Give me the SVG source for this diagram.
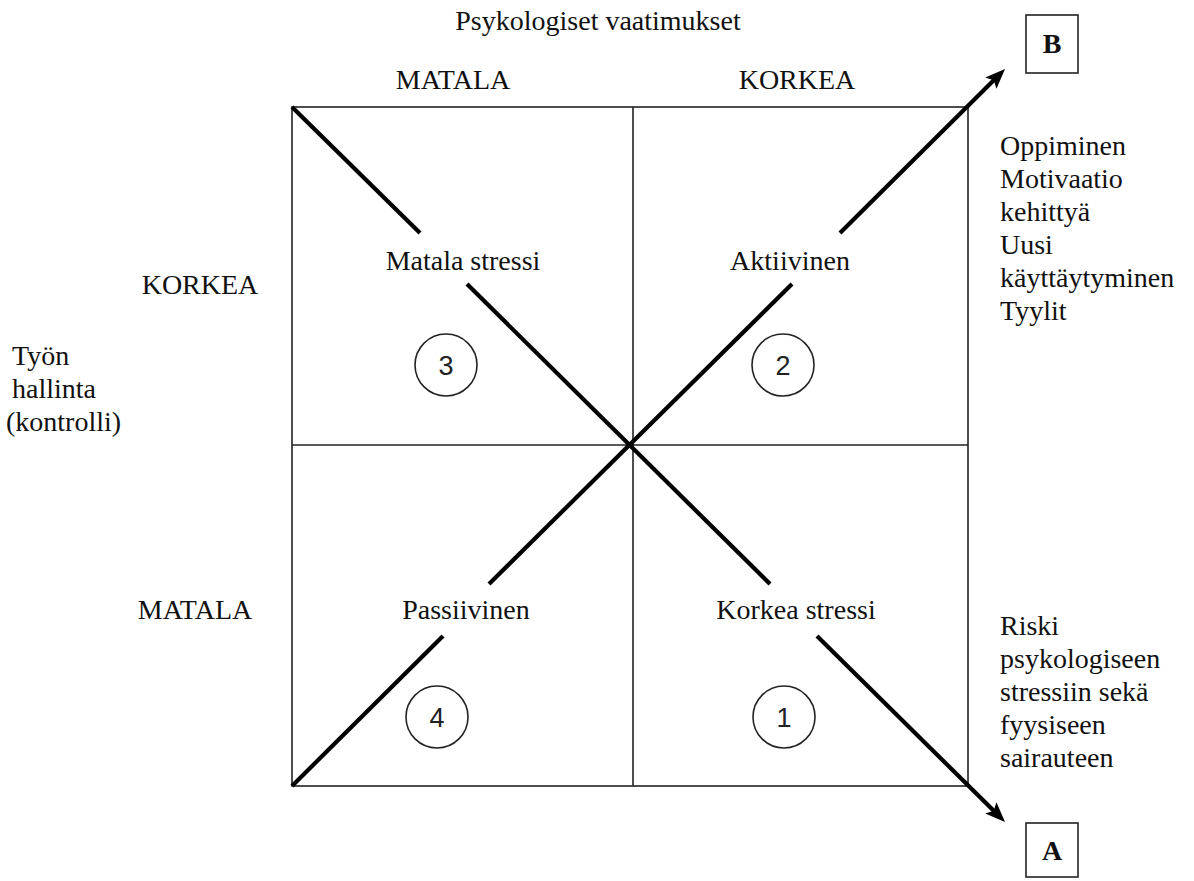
<svg xmlns="http://www.w3.org/2000/svg" width="1194" height="881" viewBox="0 0 1194 881">
<style>
text{font-family:"Liberation Serif","Times New Roman",serif;fill:#111;font-size:28px}
.c{text-anchor:middle}
.frame{fill:none;stroke:#222;stroke-width:1.6}
.diag{fill:none;stroke:#000;stroke-width:4.2}
.circ{fill:#fff;stroke:#222;stroke-width:1.6}
.num{font-family:"Liberation Sans",Arial,sans-serif;font-size:27px;text-anchor:middle;fill:#222}
.box{fill:#fff;stroke:#222;stroke-width:1.6}
.bold{font-weight:bold;font-size:28px;text-anchor:middle}
</style>
<defs>
<marker id="ah" markerUnits="userSpaceOnUse" markerWidth="22" markerHeight="18" refX="8" refY="8" orient="auto" viewBox="0 0 22 16">
<path d="M0,0 L20,8 L0,16 L4,8 Z" fill="#000"/>
</marker>
</defs>
<rect width="1194" height="881" fill="#fff"/>
<g id="grid">
<rect class="frame" x="292" y="107" width="676" height="679"/>
<line class="frame" x1="633" y1="107" x2="633" y2="786"/>
<line class="frame" x1="292" y1="445" x2="968" y2="445"/>
</g>
<g id="connectors">
<line class="diag" x1="292" y1="107" x2="420" y2="233"/>
<line class="diag" x1="467" y1="284" x2="770" y2="584"/>
<line class="diag" x1="817" y1="636" x2="996.5" y2="813.5" marker-end="url(#ah)"/>
<line class="diag" x1="292" y1="786" x2="443" y2="636"/>
<line class="diag" x1="489" y1="584" x2="792" y2="284"/>
<line class="diag" x1="840" y1="233" x2="996.5" y2="77.5" marker-end="url(#ah)"/>
</g>
<g id="axis-labels">
<text class="c" x="598" y="30">Psykologiset vaatimukset</text>
<text class="c" x="453" y="89">MATALA</text>
<text class="c" x="797" y="89">KORKEA</text>
<text class="c" x="200" y="294">KORKEA</text>
<text class="c" x="195" y="619">MATALA</text>
<text x="12" y="365">Työn</text>
<text x="12" y="398">hallinta</text>
<text x="6" y="431">(kontrolli)</text>
</g>
<g id="q-matala-stressi">
<text class="c" x="463" y="270">Matala stressi</text>
<circle class="circ" cx="446" cy="365" r="31"/>
<text class="num" x="446" y="375">3</text>
</g>
<g id="q-aktiivinen">
<text class="c" x="790" y="270">Aktiivinen</text>
<circle class="circ" cx="783" cy="365" r="31"/>
<text class="num" x="783" y="375">2</text>
</g>
<g id="q-passiivinen">
<text class="c" x="466" y="619">Passiivinen</text>
<circle class="circ" cx="437" cy="717" r="31"/>
<text class="num" x="437" y="727">4</text>
</g>
<g id="q-korkea-stressi">
<text class="c" x="796" y="619">Korkea stressi</text>
<circle class="circ" cx="784" cy="717" r="31"/>
<text class="num" x="784" y="727">1</text>
</g>
<g id="outcome-b">
<text x="1000" y="155">Oppiminen</text>
<text x="1000" y="188">Motivaatio</text>
<text x="1000" y="221">kehittyä</text>
<text x="1000" y="254">Uusi</text>
<text x="1000" y="287">käyttäytyminen</text>
<text x="1000" y="320">Tyylit</text>
</g>
<g id="outcome-a">
<text x="1000" y="635">Riski</text>
<text x="1000" y="668">psykologiseen</text>
<text x="1000" y="701">stressiin sekä</text>
<text x="1000" y="734">fyysiseen</text>
<text x="1000" y="767">sairauteen</text>
</g>
<g id="node-b">
<rect class="box" x="1026" y="15" width="52" height="58"/>
<text class="bold" x="1052" y="53">B</text>
</g>
<g id="node-a">
<rect class="box" x="1026" y="823" width="52" height="54"/>
<text class="bold" x="1052" y="860">A</text>
</g>
</svg>
